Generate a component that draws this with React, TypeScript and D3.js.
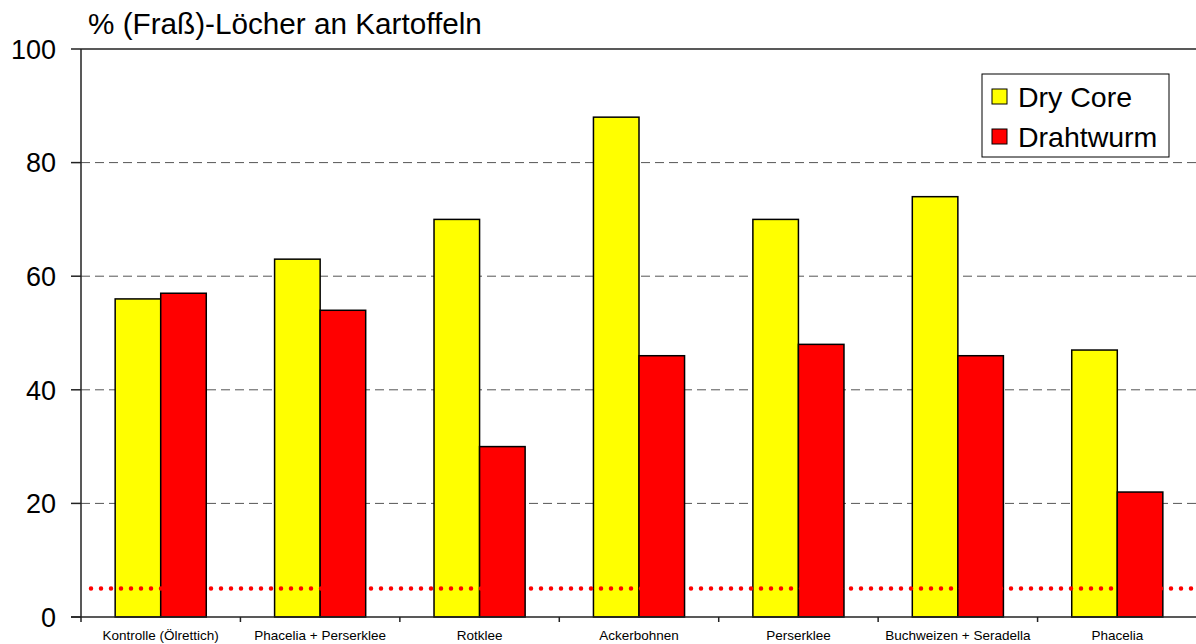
import React from "react";
import * as d3 from "d3";

const categories = [
  "Kontrolle (Ölrettich)",
  "Phacelia + Perserklee",
  "Rotklee",
  "Ackerbohnen",
  "Perserklee",
  "Buchweizen + Seradella",
  "Phacelia",
];
const dryCore = [56, 63, 70, 88, 70, 74, 47];
const drahtwurm = [57, 54, 30, 46, 48, 46, 22];
const seriesNames = ["Dry Core", "Drahtwurm"];
const seriesColors = ["#ffff00", "#ff0000"];
const yTicks = [0, 20, 40, 60, 80, 100];
const thresholdValue = 5;
const yTitle = "% (Fraß)-Löcher an Kartoffeln";

export default function App() {
  const W = 1196;
  const H = 644;
  const left = 81;
  const right = 1197;
  const top = 49;
  const bottom = 617;
  const font = "Liberation Sans, Arial, sans-serif";

  const x = d3.scaleBand<string>().domain(categories).range([left, right]).paddingInner(0).paddingOuter(0);
  const inner = d3
    .scaleBand<string>()
    .domain(seriesNames)
    .range([0, x.bandwidth()])
    .paddingInner(0)
    .paddingOuter(0.75);
  const y = d3.scaleLinear().domain([0, 100]).range([bottom, top]);
  const series = [dryCore, drahtwurm];

  return (
    <svg
      width={W}
      height={H}
      style={{ position: "absolute", left: 0, top: 0, background: "#fff" }}
      fontFamily={font}
    >
      {yTicks
        .filter((t) => t > 0 && t < 100)
        .map((t) => (
          <line
            key={"g" + t}
            x1={left}
            x2={right}
            y1={y(t)}
            y2={y(t)}
            stroke="#555"
            strokeWidth={1}
            strokeDasharray="9 5"
          />
        ))}
      <line x1={left} x2={right} y1={top} y2={top} stroke="#222" strokeWidth={1.5} />
      {categories.map((c, i) =>
        series.map((s, j) => (
          <rect
            key={c + j}
            x={(x(c) as number) + (inner(seriesNames[j]) as number)}
            y={y(s[i])}
            width={inner.bandwidth()}
            height={bottom - y(s[i])}
            fill={seriesColors[j]}
            stroke="#000"
            strokeWidth={1.5}
          />
        ))
      )}
      <line
        x1={left + 10}
        x2={right}
        y1={y(thresholdValue)}
        y2={y(thresholdValue)}
        stroke="#ff0000"
        strokeWidth={4.5}
        strokeLinecap="round"
        strokeDasharray="0 10"
      />
      <line x1={left} x2={left} y1={top} y2={bottom} stroke="#222" strokeWidth={1.5} />
      <line x1={left - 10} x2={right} y1={bottom} y2={bottom} stroke="#222" strokeWidth={1.5} />
      {yTicks.map((t) => (
        <g key={"t" + t}>
          <line x1={left - 10} x2={left} y1={y(t)} y2={y(t)} stroke="#222" strokeWidth={1.5} />
          <text x={56} y={y(t)} dy="0.36em" textAnchor="end" fontSize={27} fill="#000">
            {t}
          </text>
        </g>
      ))}
      {categories.map((c) => (
        <g key={"x" + c}>
          <line x1={x(c) as number} x2={x(c) as number} y1={bottom} y2={bottom + 5} stroke="#222" strokeWidth={1.5} />
          <text
            x={(x(c) as number) + x.bandwidth() / 2}
            y={640}
            textAnchor="middle"
            fontSize={13.5}
            fill="#000"
          >
            {c}
          </text>
        </g>
      ))}
      <text x={88} y={34} fontSize={29.7} fill="#000">
        {yTitle}
      </text>
      <rect x={982} y={74} width={187} height={83} fill="#fff" stroke="#000" strokeWidth={1} />
      {seriesNames.map((n, j) => (
        <g key={"l" + n}>
          <rect x={992} y={89 + j * 40} width={15} height={15} fill={seriesColors[j]} stroke="#000" strokeWidth={1} />
          <text x={1018} y={97 + j * 40} dy="0.36em" fontSize={28.5} fill="#000">
            {n}
          </text>
        </g>
      ))}
    </svg>
  );
}
